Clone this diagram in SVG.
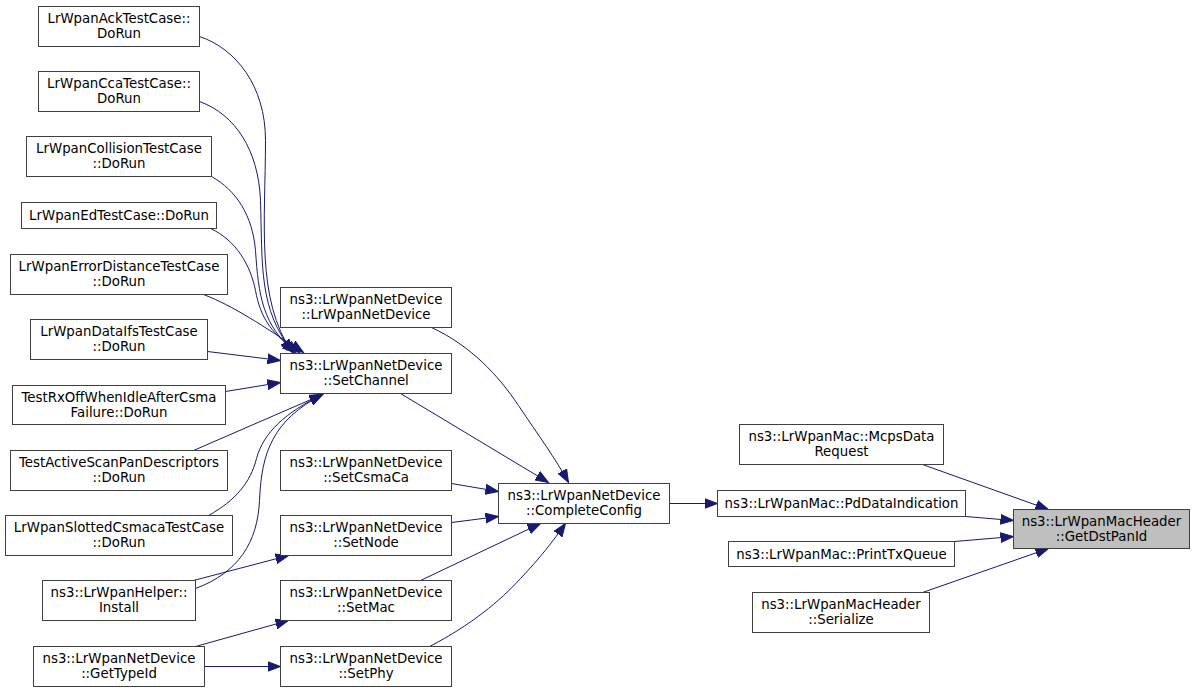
<svg xmlns="http://www.w3.org/2000/svg" width="1195" height="692" viewBox="0 0 1195 692">
<style>
.n rect{fill:#ffffff;stroke:#404040;stroke-width:1}
.n.h rect{fill:#bfbfbf}
.n text{font-family:"DejaVu Sans",sans-serif;font-size:13.33px;fill:#000000;text-anchor:middle}
.e path{fill:none;stroke:#191970;stroke-width:1;marker-end:url(#arr)}
</style>
<defs>
<marker id="arr" markerUnits="userSpaceOnUse" markerWidth="14" markerHeight="11" refX="13" refY="5.5" orient="auto" viewBox="0 0 14 11">
<path d="M0,0.6 L13,5.5 L0,10.4 z" fill="#191970" stroke="#191970" stroke-width="1"/>
</marker>
</defs>
<rect width="1195" height="692" fill="#ffffff"/>
<g transform="translate(0.5 0.5)">
<g id="edges" class="e">
<path d="M199,36 C235,48 265,85 265,140 C265,220 255,300 292,352"/>
<path d="M199,101 C235,114 258,150 260,200 C262,265 258,310 293,352"/>
<path d="M211,176 C236,190 252,215 255,250 C258,295 262,325 295,352"/>
<path d="M210,228 C236,240 250,265 255,290 C260,318 272,335 299,352"/>
<path d="M203,294 C232,305 262,325 303,352"/>
<path d="M207,351 L280,360"/>
<path d="M225,391 L280,382"/>
<path d="M193,450 L322,394"/>
<path d="M208,515 C235,500 250,482 256,458 C263,432 285,412 322,394"/>
<path d="M195,588 C238,572 257,542 259,500 C261,452 272,420 322,394"/>
<path d="M193,580 L288,555"/>
<path d="M195,646 L288,620"/>
<path d="M204,666 L280,666"/>
<path d="M431,327 C470,345 498,375 518,405 C538,435 555,458 568,482"/>
<path d="M400,393 L548,482"/>
<path d="M451,483 L498,491"/>
<path d="M451,522 L498,516"/>
<path d="M420,580 L540,523"/>
<path d="M429,646 C470,625 500,600 520,578 C540,557 553,540 565,523"/>
<path d="M669,503 L717,503"/>
<path d="M922,464 L1048,509"/>
<path d="M965,516 L1013,520"/>
<path d="M954,541 L1013,536"/>
<path d="M922,592 L1048,548"/>
</g>
<g id="n_ack" class="n"><rect x="38" y="6" width="161" height="40"/><text x="118.5" y="22">LrWpanAckTestCase::</text><text x="118.5" y="37">DoRun</text></g>
<g id="n_cca" class="n"><rect x="38" y="71" width="161" height="40"/><text x="118.5" y="87">LrWpanCcaTestCase::</text><text x="118.5" y="102">DoRun</text></g>
<g id="n_coll" class="n"><rect x="26" y="136" width="185" height="40"/><text x="118.5" y="152">LrWpanCollisionTestCase</text><text x="118.5" y="167">::DoRun</text></g>
<g id="n_ed" class="n"><rect x="21" y="202" width="195" height="26"/><text x="118.5" y="219">LrWpanEdTestCase::DoRun</text></g>
<g id="n_err" class="n"><rect x="10" y="254" width="217" height="40"/><text x="118.5" y="270">LrWpanErrorDistanceTestCase</text><text x="118.5" y="285">::DoRun</text></g>
<g id="n_ifs" class="n"><rect x="30" y="319" width="177" height="40"/><text x="118.5" y="335">LrWpanDataIfsTestCase</text><text x="118.5" y="350">::DoRun</text></g>
<g id="n_rxoff" class="n"><rect x="12" y="385" width="213" height="39"/><text x="118.5" y="401">TestRxOffWhenIdleAfterCsma</text><text x="118.5" y="416">Failure::DoRun</text></g>
<g id="n_scan" class="n"><rect x="10" y="450" width="217" height="40"/><text x="118.5" y="466">TestActiveScanPanDescriptors</text><text x="118.5" y="481">::DoRun</text></g>
<g id="n_slot" class="n"><rect x="5" y="515" width="227" height="40"/><text x="118.5" y="531">LrWpanSlottedCsmacaTestCase</text><text x="118.5" y="546">::DoRun</text></g>
<g id="n_install" class="n"><rect x="42" y="580" width="153" height="40"/><text x="118.5" y="596">ns3::LrWpanHelper::</text><text x="118.5" y="611">Install</text></g>
<g id="n_typeid" class="n"><rect x="33" y="646" width="171" height="40"/><text x="118.5" y="662">ns3::LrWpanNetDevice</text><text x="118.5" y="677">::GetTypeId</text></g>
<g id="n_ctor" class="n"><rect x="280" y="287" width="171" height="40"/><text x="365.5" y="303">ns3::LrWpanNetDevice</text><text x="365.5" y="318">::LrWpanNetDevice</text></g>
<g id="n_setchannel" class="n"><rect x="280" y="353" width="171" height="40"/><text x="365.5" y="369">ns3::LrWpanNetDevice</text><text x="365.5" y="384">::SetChannel</text></g>
<g id="n_setcsma" class="n"><rect x="280" y="450" width="171" height="40"/><text x="365.5" y="466">ns3::LrWpanNetDevice</text><text x="365.5" y="481">::SetCsmaCa</text></g>
<g id="n_setnode" class="n"><rect x="280" y="515" width="171" height="40"/><text x="365.5" y="531">ns3::LrWpanNetDevice</text><text x="365.5" y="546">::SetNode</text></g>
<g id="n_setmac" class="n"><rect x="280" y="580" width="171" height="40"/><text x="365.5" y="596">ns3::LrWpanNetDevice</text><text x="365.5" y="611">::SetMac</text></g>
<g id="n_setphy" class="n"><rect x="280" y="646" width="171" height="40"/><text x="365.5" y="662">ns3::LrWpanNetDevice</text><text x="365.5" y="677">::SetPhy</text></g>
<g id="n_complete" class="n"><rect x="498" y="483" width="171" height="40"/><text x="583.5" y="499">ns3::LrWpanNetDevice</text><text x="583.5" y="514">::CompleteConfig</text></g>
<g id="n_mcps" class="n"><rect x="739" y="424" width="204" height="40"/><text x="841" y="440">ns3::LrWpanMac::McpsData</text><text x="841" y="455">Request</text></g>
<g id="n_pd" class="n"><rect x="717" y="490" width="248" height="26"/><text x="841" y="507">ns3::LrWpanMac::PdDataIndication</text></g>
<g id="n_print" class="n"><rect x="728" y="541" width="226" height="25"/><text x="841" y="558">ns3::LrWpanMac::PrintTxQueue</text></g>
<g id="n_ser" class="n"><rect x="752" y="592" width="177" height="40"/><text x="840.5" y="608">ns3::LrWpanMacHeader</text><text x="840.5" y="623">::Serialize</text></g>
<g id="n_dst" class="n h"><rect x="1013" y="509" width="176" height="39"/><text x="1101" y="525">ns3::LrWpanMacHeader</text><text x="1101" y="540">::GetDstPanId</text></g>
</g>
</svg>
